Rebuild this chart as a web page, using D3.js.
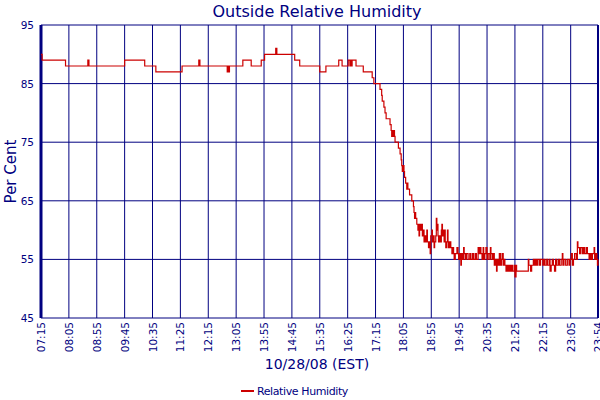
<!DOCTYPE html>
<html>
<head>
<meta charset="utf-8">
<script src="https://cdn.jsdelivr.net/npm/d3@7"></script>
<style>
  body { margin: 0; background: #fff; }
  text { font-family: "DejaVu Sans", Verdana, sans-serif; fill: #000080; }
</style>
</head>
<body>
<div id="chart"></div>
<script>
const svgWidth = 600;
const svgHeight = 400;

// tick labels along the time axis
const timeTicks = ["07:15", "08:05", "08:55", "09:45", "10:35", "11:25", "12:15", "13:05",
  "13:55", "14:45", "15:35", "16:25", "17:15", "18:05", "18:55", "19:45", "20:35",
  "21:25", "22:15", "23:05", "23:54"];
const valueTicks = [45, 55, 65, 75, 85, 95];

// readings: time of change and the humidity from then on
const readTimes = [
  "07:15", "07:17", "07:59", "08:39", "08:41", "09:45", "10:21", "10:41", "11:28", "11:58",
  "12:00", "12:49", "12:50", "12:51", "12:53", "13:17", "13:32", "13:50", "13:56", "14:16",
  "14:18", "14:50", "14:59", "15:35", "15:46", "16:09", "16:15", "16:26", "16:29", "16:30",
  "16:32", "16:33", "16:40", "16:53", "17:09", "17:12", "17:23", "17:26", "17:27", "17:30",
  "17:32", "17:34", "17:41", "17:43", "17:44", "17:45", "17:46", "17:47", "17:49", "17:50",
  "17:56", "17:59", "18:01", "18:02", "18:03", "18:04", "18:06", "18:07", "18:09", "18:11",
  "18:12", "18:13", "18:16", "18:20", "18:23", "18:24", "18:25", "18:26", "18:27", "18:29",
  "18:31", "18:32", "18:33", "18:34", "18:36", "18:38", "18:39", "18:41", "18:42", "18:44",
  "18:45", "18:47", "18:48", "18:50", "18:52", "18:53", "18:54", "18:56", "18:57", "18:59",
  "19:00", "19:01", "19:03", "19:04", "19:05", "19:06", "19:07", "19:08", "19:10", "19:11",
  "19:13", "19:14", "19:15", "19:17", "19:18", "19:19", "19:20", "19:21", "19:23", "19:24",
  "19:25", "19:26", "19:28", "19:30", "19:32", "19:34", "19:35", "19:36", "19:38", "19:41",
  "19:43", "19:44", "19:46", "19:48", "19:49", "19:51", "19:53", "19:54", "19:56", "19:58",
  "20:01", "20:04", "20:06", "20:09", "20:11", "20:14", "20:16", "20:19", "20:20", "20:22",
  "20:24", "20:26", "20:28", "20:29", "20:31", "20:33", "20:35", "20:37", "20:40", "20:41",
  "20:42", "20:44", "20:46", "20:48", "20:50", "20:52", "20:53", "20:55", "20:57", "20:59",
  "21:01", "21:02", "21:04", "21:06", "21:07", "21:09", "21:11", "21:13", "21:15", "21:17",
  "21:19", "21:21", "21:24", "21:25", "21:27", "21:28", "21:31", "21:49", "21:50", "21:53",
  "21:55", "21:58", "22:00", "22:02", "22:04", "22:06", "22:09", "22:11", "22:15", "22:17",
  "22:19", "22:22", "22:24", "22:27", "22:28", "22:30", "22:32", "22:34", "22:36", "22:38",
  "22:40", "22:43", "22:45", "22:48", "22:50", "22:51", "22:53", "22:56", "22:59", "23:02",
  "23:04", "23:06", "23:08", "23:10", "23:12", "23:15", "23:17", "23:18", "23:21", "23:23",
  "23:26", "23:28", "23:30", "23:33", "23:35", "23:38", "23:40", "23:42", "23:44", "23:47",
  "23:48", "23:50", "23:52", "23:53", "23:54"];
const humidity = [
  90, 89, 88, 89, 88, 89, 88, 87, 88, 89,
  88, 87, 88, 87, 88, 89, 88, 89, 90, 91,
  90, 89, 88, 87, 88, 89, 88, 89, 88, 89,
  88, 89, 88, 87, 86, 85, 84, 83, 82, 81,
  80, 79, 78, 77, 76, 77, 76, 77, 76, 75,
  74, 73, 72, 71, 70, 71, 70, 69, 68, 67,
  68, 67, 66, 65, 64, 63, 62, 63, 62, 61,
  60, 61, 59, 61, 60, 61, 59, 60, 58, 59,
  58, 60, 58, 57, 58, 56, 59, 60, 58, 59,
  57, 58, 59, 62, 60, 61, 59, 58, 59, 58,
  60, 61, 59, 60, 58, 60, 58, 57, 58, 60,
  58, 57, 58, 57, 56, 57, 56, 55, 56, 57,
  56, 55, 56, 54, 56, 55, 57, 56, 55, 56,
  55, 56, 55, 56, 55, 56, 55, 57, 56, 57,
  56, 55, 57, 55, 56, 57, 55, 56, 55, 57,
  56, 55, 56, 54, 55, 53, 55, 54, 56, 54,
  55, 56, 54, 55, 54, 53, 54, 53, 54, 53,
  54, 53, 54, 52, 54, 53, 53, 55, 54, 53,
  54, 55, 54, 55, 54, 55, 54, 55, 54, 55,
  54, 55, 54, 55, 53, 54, 55, 54, 53, 55,
  54, 55, 54, 55, 56, 54, 55, 54, 55, 54,
  55, 56, 54, 55, 56, 55, 58, 57, 56, 57,
  56, 57, 56, 57, 56, 55, 56, 55, 56, 57,
  55, 56, 55, 54, 55];

const toMin = s => { const [h, m] = s.split(":").map(Number); return h * 60 + m; };

const data = readTimes.map((t, i) => ({ t: toMin(t), v: humidity[i] }));

const svg = d3.select("#chart")
  .append("svg")
  .attr("width", svgWidth)
  .attr("height", svgHeight);

const margin = {top: 25, right: 2, bottom: 82, left: 41};
const graphWidth = svgWidth - margin.left - margin.right;
const graphHeight = svgHeight - margin.top - margin.bottom;
const navy = "#000080";

const graph = svg.append("g")
  .attr("transform", `translate(${margin.left}, ${margin.top})`);

const x = d3.scaleLinear()
  .domain([toMin("07:15"), toMin("23:54")])
  .range([0, graphWidth]);

const y = d3.scaleLinear()
  .domain([45, 95])
  .range([graphHeight, 0]);

// grid lines
graph.selectAll(".vgrid")
  .data(timeTicks)
  .enter()
  .append("line")
  .attr("x1", d => x(toMin(d)))
  .attr("x2", d => x(toMin(d)))
  .attr("y1", 0)
  .attr("y2", graphHeight)
  .attr("stroke", navy)
  .attr("stroke-width", 1);

graph.selectAll(".hgrid")
  .data(valueTicks)
  .enter()
  .append("line")
  .attr("x1", 0)
  .attr("x2", graphWidth)
  .attr("y1", d => y(d))
  .attr("y2", d => y(d))
  .attr("stroke", navy)
  .attr("stroke-width", 1);

// thicker left and right borders
graph.append("line")
  .attr("x1", 0).attr("x2", 0)
  .attr("y1", 0).attr("y2", graphHeight)
  .attr("stroke", navy).attr("stroke-width", 3);
graph.append("line")
  .attr("x1", graphWidth).attr("x2", graphWidth)
  .attr("y1", 0).attr("y2", graphHeight)
  .attr("stroke", navy).attr("stroke-width", 2);

// humidity line
const line = d3.line()
  .x(d => x(d.t))
  .y(d => y(d.v))
  .curve(d3.curveStepAfter);

graph.append("path")
  .datum(data)
  .attr("fill", "none")
  .attr("stroke", "#cc0000")
  .attr("stroke-width", 1.2)
  .attr("d", line);

// y tick labels
graph.selectAll(".ylab")
  .data(valueTicks)
  .enter()
  .append("text")
  .attr("x", -7)
  .attr("y", d => y(d) + 4)
  .attr("text-anchor", "end")
  .style("font-size", "10.5px")
  .text(d => d);

// x tick labels, rotated
graph.selectAll(".xlab")
  .data(timeTicks)
  .enter()
  .append("text")
  .attr("transform", d => `translate(${x(toMin(d)) + 4}, ${graphHeight + 4}) rotate(-90)`)
  .attr("text-anchor", "end")
  .style("font-size", "10.5px")
  .text(d => d);

// titles
svg.append("text")
  .attr("x", 317)
  .attr("y", 17)
  .attr("text-anchor", "middle")
  .style("font-size", "16px")
  .text("Outside Relative Humidity");

svg.append("text")
  .attr("transform", `translate(16, ${margin.top + graphHeight / 2}) rotate(-90)`)
  .attr("text-anchor", "middle")
  .style("font-size", "15px")
  .text("Per Cent");

svg.append("text")
  .attr("x", 317)
  .attr("y", 369)
  .attr("text-anchor", "middle")
  .style("font-size", "14px")
  .text("10/28/08 (EST)");

// legend
svg.append("line")
  .attr("x1", 241).attr("x2", 254)
  .attr("y1", 391).attr("y2", 391)
  .attr("stroke", "#cc0000").attr("stroke-width", 2);
svg.append("text")
  .attr("x", 257)
  .attr("y", 395)
  .style("font-size", "11px")
  .style("letter-spacing", "-0.4px")
  .text("Relative Humidity");
</script>
</body>
</html>
